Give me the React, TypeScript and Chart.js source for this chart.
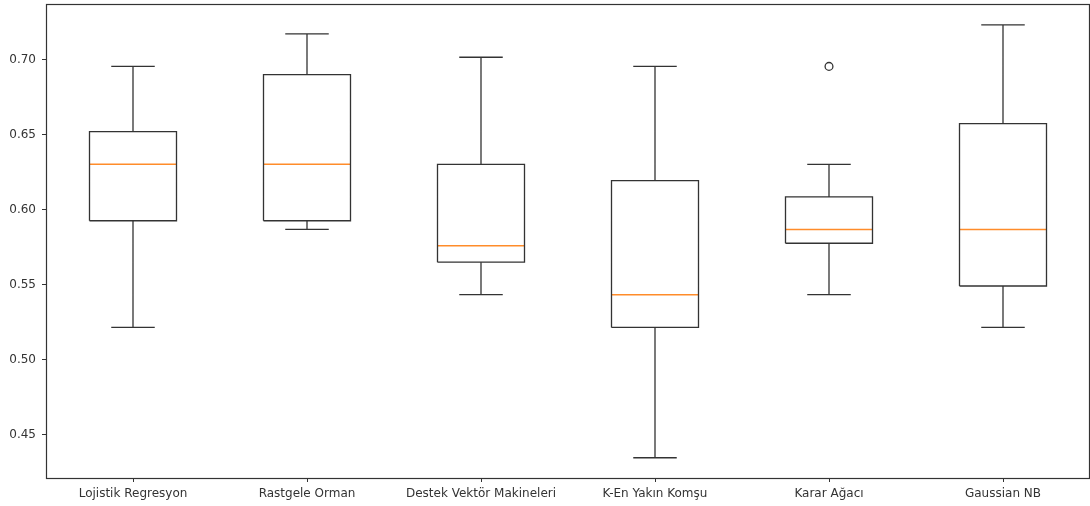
import React, { useEffect, useRef } from "react";
import { Chart, registerables } from "chart.js";

Chart.register(...registerables);

// Model names shown along the x axis
const categories = [
  "Lojistik Regresyon",
  "Rastgele Orman",
  "Destek Vektör Makineleri",
  "K-En Yakın Komşu",
  "Karar Ağacı",
  "Gaussian NB",
];

// Five-number summaries of the cross-validation accuracies
const whiskerLow = [0.5217, 0.587, 0.5435, 0.4348, 0.5435, 0.5217];
const quartile1 = [0.5928, 0.5928, 0.5652, 0.5217, 0.5778, 0.5493];
const medians = [0.6304, 0.6304, 0.5761, 0.5435, 0.587, 0.587];
const quartile3 = [0.6522, 0.6902, 0.6304, 0.6196, 0.6087, 0.6576];
const whiskerHigh = [0.6957, 0.7174, 0.7018, 0.6957, 0.6304, 0.7234];
const outliers: number[][] = [[], [], [], [], [0.6957], []];

const yTicks = [0.45, 0.5, 0.55, 0.6, 0.65, 0.7];
const yMin = 0.4213;
const yMax = 0.7373;

const BOX_HALF = 0.25;
const CAP_HALF = 0.125;
const LINE = "#333333";
const MEDIAN = "#ff8c2a";
const FONT = { family: "DejaVu Sans", size: 12 };

type P = { x: number; y: number | null };

function buildBoxes(): P[] {
  const pts: P[] = [];
  categories.forEach((_, i) => {
    const x = i + 1;
    pts.push(
      { x: x - BOX_HALF, y: quartile1[i] },
      { x: x + BOX_HALF, y: quartile1[i] },
      { x: x + BOX_HALF, y: quartile3[i] },
      { x: x - BOX_HALF, y: quartile3[i] },
      { x: x - BOX_HALF, y: quartile1[i] },
      { x, y: null }
    );
  });
  return pts;
}

function buildWhiskers(): P[] {
  const pts: P[] = [];
  categories.forEach((_, i) => {
    const x = i + 1;
    pts.push(
      { x, y: quartile1[i] },
      { x, y: whiskerLow[i] },
      { x, y: null },
      { x: x - CAP_HALF, y: whiskerLow[i] },
      { x: x + CAP_HALF, y: whiskerLow[i] },
      { x, y: null },
      { x, y: quartile3[i] },
      { x, y: whiskerHigh[i] },
      { x, y: null },
      { x: x - CAP_HALF, y: whiskerHigh[i] },
      { x: x + CAP_HALF, y: whiskerHigh[i] },
      { x, y: null }
    );
  });
  return pts;
}

function buildMedians(): P[] {
  const pts: P[] = [];
  categories.forEach((_, i) => {
    const x = i + 1;
    pts.push(
      { x: x - BOX_HALF, y: medians[i] },
      { x: x + BOX_HALF, y: medians[i] },
      { x, y: null }
    );
  });
  return pts;
}

function buildOutliers(): P[] {
  const pts: P[] = [];
  outliers.forEach((vals, i) => vals.forEach((v) => pts.push({ x: i + 1, y: v })));
  return pts;
}

// Full rectangular frame around the plotting area
const framePlugin = {
  id: "frame",
  afterDraw(chart: any) {
    const { ctx, chartArea } = chart;
    ctx.save();
    ctx.strokeStyle = LINE;
    ctx.lineWidth = 1.2;
    ctx.strokeRect(
      Math.round(chartArea.left) + 0.5,
      Math.round(chartArea.top) + 0.5,
      Math.round(chartArea.right - chartArea.left) - 1,
      Math.round(chartArea.bottom - chartArea.top)
    );
    ctx.restore();
  },
};

export default function App() {
  const ref = useRef<HTMLCanvasElement | null>(null);

  useEffect(() => {
    document.body.style.margin = "0";
    if (!ref.current) return;
    const lineDs = (data: P[], color: string, width: number) => ({
      type: "line" as const,
      data,
      borderColor: color,
      borderWidth: width,
      pointRadius: 0,
      spanGaps: false,
      fill: false,
      tension: 0,
    });
    const chart = new Chart(ref.current, {
      type: "line",
      data: {
        datasets: [
          lineDs(buildWhiskers(), LINE, 1.3) as any,
          lineDs(buildBoxes(), LINE, 1.3) as any,
          lineDs(buildMedians(), MEDIAN, 1.5) as any,
          {
            type: "scatter",
            data: buildOutliers(),
            pointStyle: "circle",
            pointRadius: 3.9,
            pointBorderWidth: 1.3,
            pointBorderColor: LINE,
            pointBackgroundColor: "rgba(0,0,0,0)",
            showLine: false,
          } as any,
        ],
      },
      options: {
        responsive: false,
        animation: false,
        events: [],
        layout: { autoPadding: false, padding: { top: 4, right: 0, left: 0, bottom: 0 } },
        plugins: {
          legend: { display: false },
          tooltip: { enabled: false },
        },
        scales: {
          x: {
            type: "linear",
            min: 0.5,
            max: 6.5,
            afterBuildTicks: (scale: any) => {
              scale.ticks = categories.map((_, i) => ({ value: i + 1 }));
            },
            afterFit: (scale: any) => {
              scale.height = 28;
              scale.paddingLeft = 0;
              scale.paddingRight = 0;
            },
            ticks: {
              autoSkip: false,
              maxRotation: 0,
              padding: 5,
              color: "#333",
              font: FONT,
              callback: (v: any) => categories[Math.round(Number(v)) - 1] ?? "",
            },
            grid: {
              drawOnChartArea: false,
              drawTicks: true,
              tickLength: 4,
              color: LINE,
              lineWidth: 1,
            },
            border: { display: false },
          },
          y: {
            type: "linear",
            min: yMin,
            max: yMax,
            afterBuildTicks: (scale: any) => {
              scale.ticks = yTicks.map((v) => ({ value: v }));
            },
            afterFit: (scale: any) => {
              scale.width = 46;
              scale.paddingTop = 0;
              scale.paddingBottom = 0;
            },
            ticks: {
              padding: 6,
              color: "#333",
              font: FONT,
              callback: (v: any) => Number(v).toFixed(2),
            },
            grid: {
              drawOnChartArea: false,
              drawTicks: true,
              tickLength: 4,
              color: LINE,
              lineWidth: 1,
            },
            border: { display: false },
          },
        },
      },
      plugins: [framePlugin],
    });
    return () => chart.destroy();
  }, []);

  return (
    <div style={{ width: 1090, height: 506, background: "#fff" }}>
      <canvas ref={ref} width={1090} height={506} />
    </div>
  );
}
